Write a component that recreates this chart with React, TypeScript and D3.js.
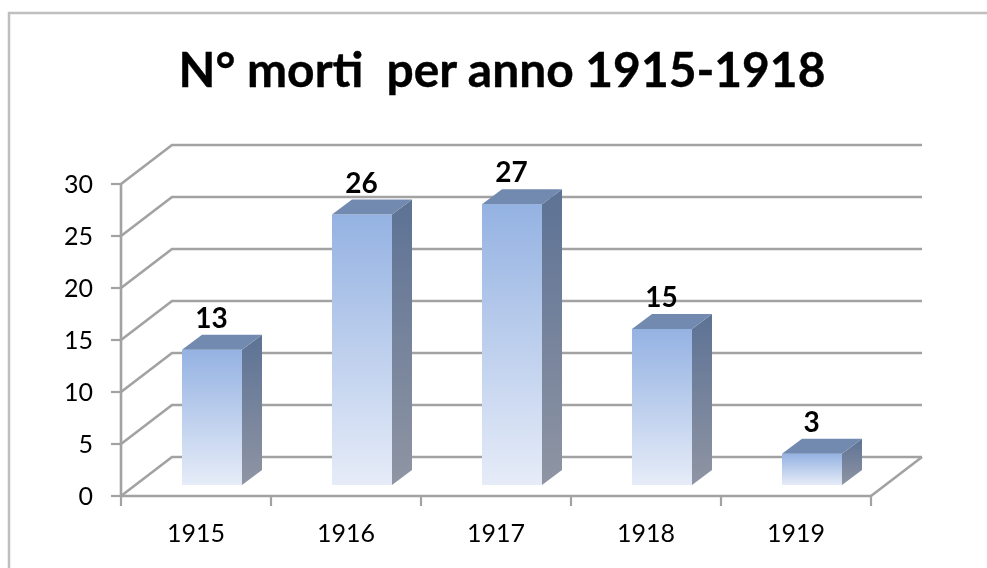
import * as d3 from "d3";

const years = ["1915", "1916", "1917", "1918", "1919"];
const deaths = [13, 26, 27, 15, 3];
const yTicks = [0, 5, 10, 15, 20, 25, 30];
const titleText = "N° morti  per anno 1915-1918";

const width = 987;
const height = 568;
const gridColor = "#a2a2a2";

// projection of the fake 3d box
const depthX = 51;
const depthY = -39;
const barDepthX = 20;
const barDepthY = -15;
const barShiftX = 16;
const barShiftY = -11;
const barWidth = 60;

const x = d3.scaleBand().domain(years).range([121, 871]);
const y = d3.scaleLinear().domain([0, 30]).range([496, 184]);

const poly = d3.line();

export default function App() {
  return (
    <svg
      width={width}
      height={height}
      style={{ position: "absolute", left: 0, top: 0, background: "#fff" }}
      fontFamily="Lato, sans-serif"
    >
      <defs>
        <linearGradient id="front" x1="0" y1="0" x2="0" y2="1">
          <stop offset="0" stopColor="#94b2e2" />
          <stop offset="1" stopColor="#e6ecf8" />
        </linearGradient>
        <linearGradient id="side" x1="0" y1="0" x2="0" y2="1">
          <stop offset="0" stopColor="#5d7295" />
          <stop offset="1" stopColor="#8f95a3" />
        </linearGradient>
        <filter id="soft" x="-5%" y="-5%" width="110%" height="110%">
          <feGaussianBlur stdDeviation="0.6" />
        </filter>
      </defs>

      <g filter="url(#soft)">
        {/* outer frame, runs off the right and bottom of the picture */}
        <rect x={9} y={13} width={1000} height={600} fill="#fff" stroke="#bfbfbf" strokeWidth={2.5} />

        <text x={502} y={87} textAnchor="middle" fontSize={47.9} fontWeight={700} fill="#000" stroke="#000" strokeWidth={0.4} style={{ whiteSpace: "pre" }}>
          {titleText}
        </text>

        {/* walls and floor */}
        {yTicks.map((t) => (
          <path
            key={t}
            d={poly([[x.range()[0], y(t)], [x.range()[0] + depthX, y(t) + depthY], [x.range()[1] + depthX, y(t) + depthY]]) ?? ""}
            fill="none"
            stroke={gridColor}
            strokeWidth={2.6}
          />
        ))}
        <path
          d={poly([[x.range()[1], y(0)], [x.range()[1] + depthX, y(0) + depthY]]) ?? ""}
          fill="none"
          stroke={gridColor}
          strokeWidth={2.6}
        />

        {/* axes */}
        <line x1={121} x2={121} y1={y(30)} y2={y(0)} stroke={gridColor} strokeWidth={2.6} />
        <line x1={x.range()[0]} x2={x.range()[1]} y1={y(0)} y2={y(0)} stroke={gridColor} strokeWidth={2.6} />
        {yTicks.map((t) => (
          <g key={t}>
            <line x1={111} x2={121} y1={y(t)} y2={y(t)} stroke={gridColor} strokeWidth={2.2} />
            <text x={93} y={y(t)} dy="0.35em" textAnchor="end" fontSize={25} fill="#000">
              {t}
            </text>
          </g>
        ))}
        {[...years.map((d) => x(d) as number), x.range()[1]].map((px) => (
          <line key={px} x1={px} x2={px} y1={y(0)} y2={y(0) + 10} stroke={gridColor} strokeWidth={2.2} />
        ))}
        {years.map((d) => (
          <text key={d} x={(x(d) as number) + x.bandwidth() / 2} y={542} textAnchor="middle" fontSize={25} fill="#000">
            {d}
          </text>
        ))}

        {/* bars */}
        {years.map((d, i) => {
          const x0 = (x(d) as number) + (x.bandwidth() - barWidth) / 2 + barShiftX;
          const x1 = x0 + barWidth;
          const base = y(0) + barShiftY;
          const top = base - (y(0) - y(deaths[i]));
          return (
            <g key={d}>
              <rect x={x0} y={top} width={barWidth} height={base - top} fill="url(#front)" />
              <path
                d={(poly([[x1, top], [x1 + barDepthX, top + barDepthY], [x1 + barDepthX, base + barDepthY], [x1, base]]) ?? "") + "Z"}
                fill="url(#side)"
              />
              <path
                d={(poly([[x0, top], [x0 + barDepthX, top + barDepthY], [x1 + barDepthX, top + barDepthY], [x1, top]]) ?? "") + "Z"}
                fill="#728aaf"
              />
              <text x={(x0 + x1) / 2 - 0.5} y={top + barDepthY - 7} textAnchor="middle" fontSize={28} fontWeight={700} fill="#000">
                {deaths[i]}
              </text>
            </g>
          );
        })}
      </g>
    </svg>
  );
}
